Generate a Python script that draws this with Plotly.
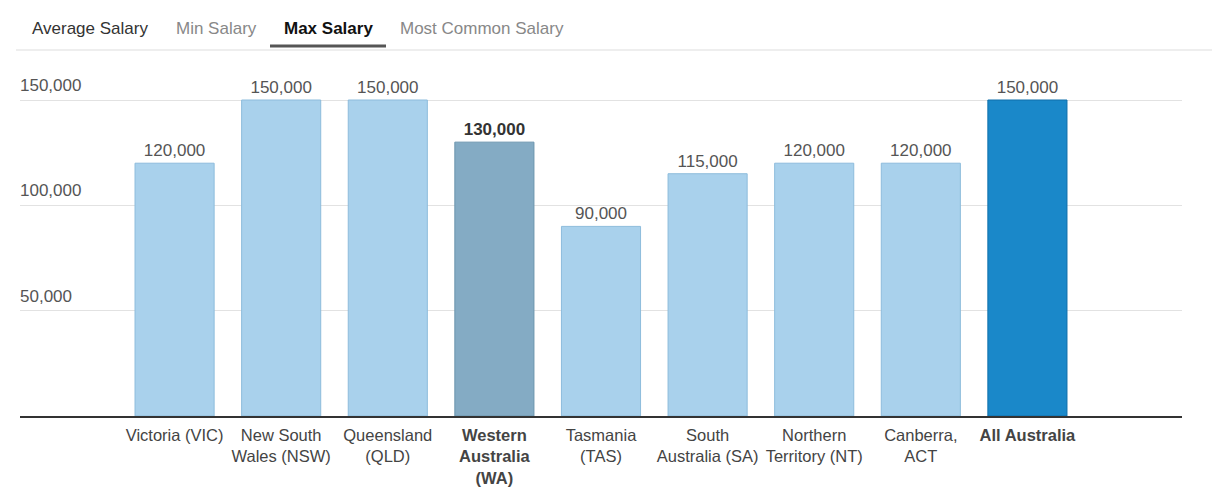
import plotly.graph_objects as go

categories = ["Victoria (VIC)", "New South<br>Wales (NSW)", "Queensland<br>(QLD)",
              "<b>Western<br>Australia<br>(WA)</b>", "Tasmania<br>(TAS)",
              "South<br>Australia (SA)", "Northern<br>Territory (NT)",
              "Canberra,<br>ACT", "<b>All Australia</b>"]
max_salary = [120000, 150000, 150000, 130000, 90000, 115000, 120000, 120000, 150000]
tabs = ["Average Salary", "Min Salary", "Max Salary", "Most Common Salary"]
y_ticks = [50000, 100000, 150000]

light, light_edge = "#a9d1ec", "#8dbcdc"
fill = [light] * 9
edge = [light_edge] * 9
fill[3], edge[3] = "#84abc4", "#6b94ae"
fill[8], edge[8] = "#1a88c9", "#0e6fab"

labels = [("<b>{:,}</b>".format(v) if i == 3 else "{:,}".format(v)) for i, v in enumerate(max_salary)]
lab_colors = ["#333" if i == 3 else "#555" for i in range(9)]

FONT = "Liberation Sans, Arial, sans-serif"

# page geometry (body has an 8px margin)
OFF = 8
W, H = 1220 - 2 * OFF, 500 - 2 * OFF
L, R = 20 - OFF, 1182 - OFF
T, B = 60 - OFF, 416 - OFF
y_max = 150000 * (B - T) / (B - (100 - OFF))

fig = go.Figure(go.Bar(
    x=list(range(len(categories))), y=max_salary,
    marker=dict(color=fill, line=dict(color=edge, width=1)),
    text=labels, textposition="outside", cliponaxis=False,
    textfont=dict(family=FONT, size=17, color=lab_colors),
    hoverinfo="skip",
))

def px_x(px):
    return (px - OFF - L) / (R - L)

def px_y(py):
    return (B - (py - OFF)) / (B - T)

annotations = []
tab_pos = [32, 176, 284, 400]
tab_colors = ["#333", "#888", "#111", "#888"]
for t, x0, c in zip(tabs, tab_pos, tab_colors):
    txt = "<b>%s</b>" % t if t == "Max Salary" else t
    annotations.append(dict(text=txt, x=px_x(x0 - 2), y=px_y(28), xref="paper", yref="paper",
                            xanchor="left", yanchor="middle", showarrow=False,
                            font=dict(family=FONT, size=17, color=c)))

shapes = [
    dict(type="line", xref="paper", yref="paper", x0=px_x(16), x1=px_x(1212),
         y0=px_y(50), y1=px_y(50), line=dict(color="#dddddd", width=1)),
    dict(type="line", xref="paper", yref="paper", x0=px_x(270), x1=px_x(386),
         y0=px_y(46), y1=px_y(46), line=dict(color="#555555", width=3)),
]

fig.update_layout(
    width=W, height=H,
    margin=dict(l=L, r=W - R, t=T, b=H - B, autoexpand=False),
    plot_bgcolor="white", paper_bgcolor="white",
    bargap=0.258, showlegend=False,
    annotations=annotations, shapes=shapes,
    font=dict(family=FONT, size=16, color="#444"),
    xaxis=dict(tickmode="array", tickvals=list(range(len(categories))), ticktext=categories,
               range=[-1.45, 9.45], showline=True, linecolor="#333", linewidth=2,
               showgrid=False, ticks="outside", ticklen=3, tickcolor="rgba(0,0,0,0)",
               automargin=False,
               tickfont=dict(family=FONT, size=16.5, color="#444")),
    yaxis=dict(range=[0, y_max], tickvals=y_ticks, tickformat=",", showgrid=True,
               gridcolor="#e2e2e2", gridwidth=1, zeroline=False, automargin=False,
               ticklabelposition="inside top", ticklabelshift=-3, ticklabelstandoff=-3,
               tickfont=dict(family=FONT, size=17, color="#555")),
)

fig.write_html("out.html")
